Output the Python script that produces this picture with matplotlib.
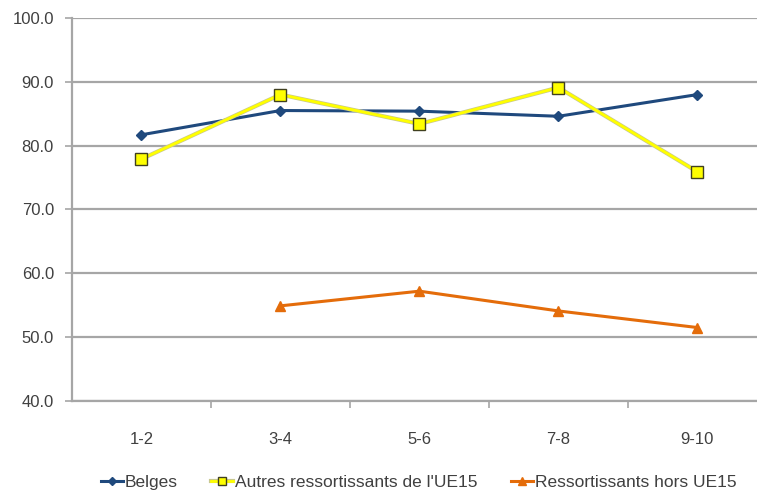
import numpy as np
import matplotlib.pyplot as plt
import matplotlib.patheffects as pe

# Scores par groupe d'age et par nationalite
categories = ['1-2', '3-4', '5-6', '7-8', '9-10']
belges = [81.7, 85.5, 85.4, 84.6, 88.0]
autres_ue15 = [77.9, 88.0, 83.4, 89.1, 75.9]
hors_ue15 = [np.nan, 54.9, 57.2, 54.1, 51.5]

plt.rcParams['font.family'] = ['Liberation Sans', 'DejaVu Sans']
text_col = '#404040'
grid_col = '#a6a6a6'

fig = plt.figure(figsize=(7.57, 4.95), dpi=100)
ax = fig.add_axes([0.0951, 0.19, 0.918, 0.7737])

x = np.arange(len(categories))
l1, = ax.plot(x, belges, color='#1f497d', lw=2.2, marker='D', ms=5,
              mfc='#1f497d', mec='#1f497d')
# yellow line gets a faint grey edge, markers drawn on top without it
l2a, = ax.plot(x, autres_ue15, color='#ffff00', lw=2.0,
               path_effects=[pe.Stroke(linewidth=3.0, foreground='#c8c890'),
                             pe.Normal()])
l2b, = ax.plot(x, autres_ue15, ls='none', marker='s', ms=8,
               mfc='#ffff00', mec='#404020', mew=1.0)
l3, = ax.plot(x, hors_ue15, color='#e46c0a', lw=2.2, marker='^', ms=7,
              mfc='#e46c0a', mec='#e46c0a')

ax.set_xlim(-0.5, len(categories) - 0.5)
ax.set_ylim(40, 100)
ax.set_yticks(np.arange(40, 101, 10))
ax.set_yticklabels([f'{v:.1f}' for v in np.arange(40, 101, 10)])
ax.set_xticks(x)
ax.set_xticklabels(categories)
ax.set_xticks(np.arange(0.5, len(categories), 1), minor=True)

ax.yaxis.grid(True, color=grid_col, lw=1.6)
ax.set_axisbelow(True)
for s in ['top', 'right']:
    ax.spines[s].set_visible(False)
ax.spines['left'].set_color(grid_col)
ax.spines['bottom'].set_color(grid_col)
ax.spines['left'].set_linewidth(1.6)
ax.spines['bottom'].set_linewidth(1.6)

ax.tick_params(axis='y', length=5, width=1.2, color=grid_col, pad=8,
               labelsize=12, labelcolor=text_col)
ax.tick_params(axis='x', which='major', length=0, pad=22,
               labelsize=12, labelcolor=text_col)
ax.tick_params(axis='x', which='minor', length=5, width=1.2, color=grid_col)

leg = fig.legend([l1, (l2a, l2b), l3],
                 ['Belges', "Autres ressortissants de l'UE15",
                  'Ressortissants hors UE15'],
                 loc='center', bbox_to_anchor=(0.553, 0.026), ncol=3,
                 frameon=False, fontsize=12.5, handlelength=1.3,
                 handletextpad=0.1, columnspacing=1.9, markerscale=0.8)
for t in leg.get_texts():
    t.set_color(text_col)

fig.savefig('out.png', dpi=100)
